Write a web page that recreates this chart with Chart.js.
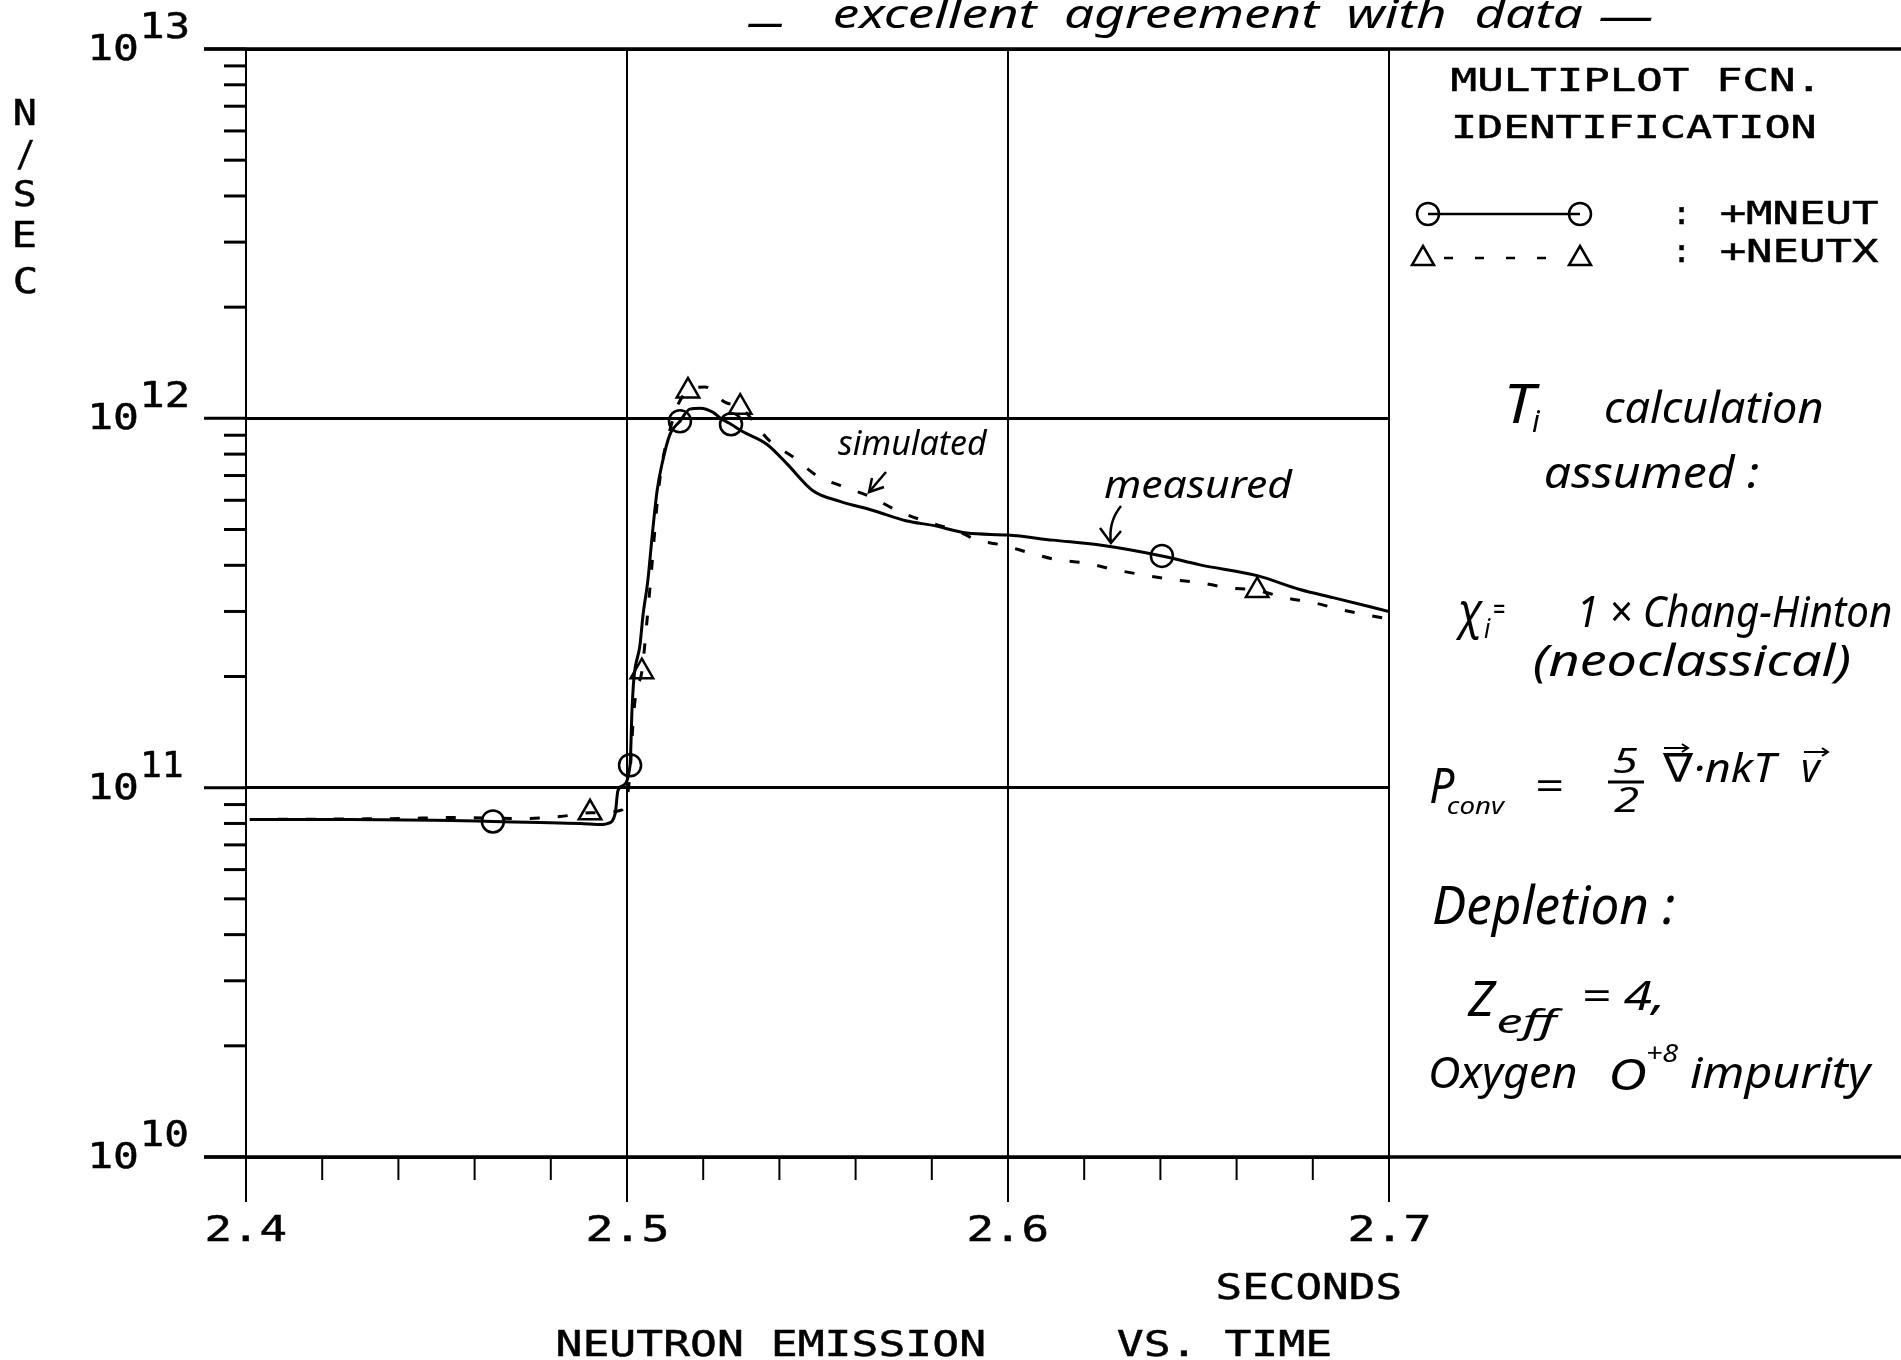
<!DOCTYPE html>
<html>
<head>
<meta charset="utf-8">
<title>Neutron emission vs. time</title>
<script src="https://cdn.jsdelivr.net/npm/chart.js@4.4.1/dist/chart.umd.min.js"></script>
<style>
  html, body { margin: 0; padding: 0; background: #fff; }
  canvas { display: block; }
</style>
</head>
<body>
<canvas id="chart" width="1901" height="1360"></canvas>
<script>
// Measured neutron emission (+MNEUT), solid line
const measuredTime = [2.401, 2.427, 2.4535, 2.4648, 2.4772, 2.4877, 2.4937, 2.4950, 2.4969, 2.4976,
    2.4987, 2.5008, 2.5013, 2.5018, 2.5034, 2.5042, 2.5055, 2.5066, 2.5079, 2.5092,
    2.5113, 2.5139, 2.5165, 2.5192, 2.5226, 2.5249, 2.5273, 2.5302, 2.5367, 2.5420,
    2.5488, 2.5559, 2.5646, 2.5735, 2.5803, 2.5892, 2.6000, 2.6118, 2.6241, 2.6404,
    2.6504, 2.6654, 2.6766, 2.6853, 2.7000];
const measuredRate = [8.2e10, 8.2e10, 8.15e10, 8.1e10, 8.05e10, 8.0e10, 7.95e10, 8.0e10, 8.5e10, 9.8e10,
    1.01e11, 1.15e11, 1.61e11, 1.97e11, 2.43e11, 2.93e11, 3.66e11, 4.80e11, 6.37e11, 7.53e11,
    9.06e11, 9.82e11, 1.059e12, 1.065e12, 1.038e12, 9.94e11, 9.64e11, 9.23e11, 8.51e11, 7.53e11,
    6.37e11, 5.96e11, 5.63e11, 5.27e11, 5.13e11, 4.89e11, 4.83e11, 4.68e11, 4.54e11, 4.24e11,
    4.01e11, 3.75e11, 3.44e11, 3.27e11, 3.00e11];

// Simulated neutron emission (+NEUTX), dashed line
const simulatedTime = [2.401, 2.4404, 2.4535, 2.4719, 2.4824, 2.4903, 2.4982, 2.5003, 2.5010, 2.5016,
    2.5024, 2.5039, 2.5052, 2.5066, 2.5079, 2.5092, 2.5113, 2.5134, 2.5160, 2.5205,
    2.5257, 2.5297, 2.5375, 2.5436, 2.5499, 2.5559, 2.5638, 2.5709, 2.5774, 2.5874,
    2.5919, 2.5984, 2.6058, 2.6129, 2.6202, 2.6281, 2.6354, 2.6430, 2.6504, 2.6575,
    2.6654, 2.6727, 2.6801, 2.6871, 2.6945, 2.7000];
const simulatedRate = [8.2e10, 8.25e10, 8.3e10, 8.25e10, 8.35e10, 8.55e10, 8.67e10, 9.8e10, 1.18e11, 1.51e11,
    1.82e11, 2.06e11, 2.80e11, 4.06e11, 5.87e11, 7.53e11, 9.34e11, 1.09e12, 1.186e12, 1.216e12,
    1.106e12, 1.072e12, 8.67e11, 7.86e11, 6.99e11, 6.58e11, 6.14e11, 5.63e11, 5.30e11, 4.92e11,
    4.68e11, 4.54e11, 4.32e11, 4.14e11, 4.06e11, 3.89e11, 3.77e11, 3.66e11, 3.59e11, 3.48e11,
    3.42e11, 3.27e11, 3.17e11, 3.04e11, 2.93e11, 2.86e11];

// Points where the plotter put its symbols
const measuredMarkTime = [2.4648, 2.5008, 2.5139, 2.5273, 2.6404];
const measuredMarkRate = [8.1e10, 1.15e11, 9.82e11, 9.64e11, 4.24e11];
const simulatedMarkTime = [2.4903, 2.5039, 2.5160, 2.5297, 2.6654];
const simulatedMarkRate = [8.55e10, 2.06e11, 1.186e12, 1.072e12, 3.42e11];

// Axes
const xTicks = [2.40, 2.42, 2.44, 2.46, 2.48, 2.50, 2.52, 2.54, 2.56, 2.58, 2.60, 2.62, 2.64, 2.66, 2.68, 2.70];
const xLabels = ['2.4', '2.5', '2.6', '2.7'];
const yDecades = [10, 11, 12, 13];
const yMinor = [2, 3, 4, 5, 6, 7, 8, 9];

const MONO = '"DejaVu Sans Mono", "Liberation Mono", monospace';
const HAND = '"Noto Sans", "DejaVu Sans", sans-serif';

function isMajorX(v) {
    return Math.abs(v * 10 - Math.round(v * 10)) < 1e-6;
}
function isMajorY(v) {
    let e = Math.log10(v);
    return Math.abs(e - Math.round(e)) < 1e-6;
}

let yTickValues = [];
yDecades.forEach((d, i) => {
    yTickValues.push(Math.pow(10, d));
    if (i < yDecades.length - 1) {
        yMinor.forEach(m => yTickValues.push(m * Math.pow(10, d)));
    }
});

function pairs(xs, ys) {
    return xs.map((x, i) => ({x: x, y: ys[i]}));
}

// draw text so its ink box starts at x and is w wide; heavy adds a thin outline
function fitText(ctx, str, x, y, w, font, heavy) {
    ctx.save();
    ctx.font = font;
    ctx.textAlign = 'left';
    ctx.textBaseline = 'alphabetic';
    let m = ctx.measureText(str);
    let ink = m.actualBoundingBoxLeft + m.actualBoundingBoxRight;
    let sx = w ? w / ink : 1;
    ctx.translate(x, y);
    ctx.scale(sx, 1);
    ctx.fillText(str, m.actualBoundingBoxLeft, 0);
    if (heavy) {
        ctx.lineWidth = heavy;
        ctx.strokeText(str, m.actualBoundingBoxLeft, 0);
    }
    ctx.restore();
}
function centerText(ctx, str, cx, y, w, font, heavy) {
    fitText(ctx, str, cx - w / 2, y, w, font, heavy);
}
function line(ctx, pts, width) {
    ctx.beginPath();
    ctx.lineWidth = width;
    ctx.moveTo(pts[0][0], pts[0][1]);
    for (let i = 1; i < pts.length; i++) ctx.lineTo(pts[i][0], pts[i][1]);
    ctx.stroke();
}
// little vector arrow drawn over a letter
function vecArrow(ctx, x0, x1, y) {
    line(ctx, [[x0, y], [x1, y]], 2);
    line(ctx, [[x1 - 6, y - 4], [x1, y], [x1 - 6, y + 4]], 2);
}

const plotterFrame = {
    id: 'plotterFrame',
    afterDraw(chart) {
        const ctx = chart.ctx;
        const xs = chart.scales.x;
        const ys = chart.scales.y;
        const area = chart.chartArea;
        const mono = size => size + 'px ' + MONO;
        const HV = 0.5;
        ctx.save();
        ctx.strokeStyle = '#000';
        ctx.fillStyle = '#000';
        ctx.lineCap = 'butt';

        // top and bottom lines run out under the legend
        let top = ys.getPixelForValue(1e13);
        let bottom = ys.getPixelForValue(1e10);
        line(ctx, [[204, top], [1901, top]], 3.5);
        line(ctx, [[204, bottom], [1901, bottom]], 3.5);

        // y ticks on the outside of the left axis
        ys.ticks.forEach(t => {
            let py = ys.getPixelForValue(t.value);
            if (isMajorY(t.value)) {
                line(ctx, [[204, py], [area.left, py]], 3);
            } else {
                line(ctx, [[224, py], [area.left, py]], 3);
            }
        });
        // x ticks below the bottom axis
        xs.ticks.forEach(t => {
            let px = xs.getPixelForValue(t.value);
            line(ctx, [[px, bottom], [px, bottom + (isMajorX(t.value) ? 45 : 23)]], 2);
        });

        // y labels 10^n
        yDecades.forEach(d => {
            let py = ys.getPixelForValue(Math.pow(10, d));
            fitText(ctx, '10', 92, py + 11, 45, mono(36), HV);
            fitText(ctx, String(d), 144, py - 11, String(d) === '11' ? 38 : 43, mono(36), HV);
        });
        // x labels
        xTicks.filter(isMajorX).forEach((v, i) => {
            centerText(ctx, xLabels[i], xs.getPixelForValue(v), 1241, 78, mono(36), HV);
        });

        // axis titles
        ['N', '/', 'S', 'E', 'C'].forEach((c, i) => {
            centerText(ctx, c, 25, [125, 166, 206, 247, 293][i], c === '/' ? 16 : 20, mono(36), HV);
        });
        fitText(ctx, 'SECONDS', 1218, 1299, 182, mono(36), HV);
        fitText(ctx, 'NEUTRON EMISSION', 558, 1356, 426, mono(36), HV);
        fitText(ctx, 'VS. TIME', 1118, 1356, 212, mono(36), HV);

        // function identification box
        fitText(ctx, 'MULTIPLOT FCN.', 1452, 91, 360, mono(32), HV);
        fitText(ctx, 'IDENTIFICATION', 1455, 138, 360, mono(32), HV);
        line(ctx, [[1428, 214], [1580, 214]], 2.5);
        ctx.setLineDash([9, 22]);
        line(ctx, [[1444, 258], [1566, 258]], 2.5);
        ctx.setLineDash([]);
        ctx.lineWidth = 2.5;
        [1428, 1580].forEach(cx => {
            ctx.beginPath();
            ctx.arc(cx, 214, 11, 0, Math.PI * 2);
            ctx.stroke();
        });
        [1423, 1580].forEach(cx => {
            ctx.beginPath();
            ctx.moveTo(cx, 246);
            ctx.lineTo(cx + 11, 265);
            ctx.lineTo(cx - 11, 265);
            ctx.closePath();
            ctx.fillStyle = '#fff';
            ctx.fill();
            ctx.stroke();
            ctx.fillStyle = '#000';
        });
        fitText(ctx, ':', 1679, 224, 0, mono(32), HV);
        fitText(ctx, '+MNEUT', 1721, 224, 157, mono(32), HV);
        fitText(ctx, ':', 1679, 262, 0, mono(32), HV);
        fitText(ctx, '+NEUTX', 1721, 262, 157, mono(32), HV);

        // hand-written notes
        const h = size => 'italic ' + size + 'px ' + HAND;
        fitText(ctx, '—', 748, 36, 35, h(40));
        fitText(ctx, 'excellent  agreement  with  data', 834, 28, 748, h(40));
        fitText(ctx, '—', 1600, 30, 53, h(40));

        fitText(ctx, 'T', 1508, 423, 32, h(54));
        fitText(ctx, 'i', 1532, 432, 9, h(30));
        fitText(ctx, 'calculation', 1606, 423, 216, h(44));
        fitText(ctx, 'assumed :', 1546, 488, 212, h(44));

        fitText(ctx, 'χ', 1455, 628, 28, h(50));
        fitText(ctx, 'i', 1484, 638, 7, h(28));
        fitText(ctx, '=', 1494, 620, 11, h(30));
        fitText(ctx, '1 × Chang-Hinton', 1582, 627, 309, h(44));
        fitText(ctx, '(neoclassical)', 1534, 676, 315, h(44));

        fitText(ctx, 'P', 1431, 803, 24, h(50));
        fitText(ctx, 'conv', 1448, 814, 58, h(24));
        fitText(ctx, '=', 1538, 800, 24, h(40));
        fitText(ctx, '5', 1614, 773, 24, h(34));
        line(ctx, [[1608, 782], [1644, 782]], 3);
        fitText(ctx, '2', 1614, 812, 24, h(34));
        fitText(ctx, '∇·nkT', 1662, 782, 118, h(40));
        fitText(ctx, 'v', 1802, 782, 20, h(40));
        vecArrow(ctx, 1664, 1688, 748);
        vecArrow(ctx, 1804, 1828, 752);

        fitText(ctx, 'Depletion :', 1434, 924, 240, h(52));
        fitText(ctx, 'Z', 1467, 1016, 30, h(50));
        fitText(ctx, 'eff', 1498, 1033, 66, h(32));
        fitText(ctx, '= 4,', 1585, 1010, 76, h(40));
        fitText(ctx, 'Oxygen', 1431, 1088, 145, h(44));
        fitText(ctx, 'O', 1612, 1090, 34, h(44));
        fitText(ctx, '+8', 1647, 1062, 32, h(26));
        fitText(ctx, 'impurity', 1691, 1088, 182, h(44));

        fitText(ctx, 'simulated', 838, 455, 150, h(34));
        line(ctx, [[886, 472], [869, 492]], 2.5);
        line(ctx, [[872, 478], [869, 492], [884, 487]], 2.5);
        fitText(ctx, 'measured', 1105, 498, 188, h(38));
        ctx.beginPath();
        ctx.lineWidth = 2.5;
        ctx.moveTo(1121, 506);
        ctx.quadraticCurveTo(1108, 522, 1111, 543);
        ctx.stroke();
        line(ctx, [[1100, 528], [1111, 543], [1121, 531]], 2.5);

        ctx.restore();
    }
};

const ctx = document.getElementById('chart').getContext('2d');
const neutronChart = new Chart(ctx, {
    type: 'scatter',
    data: {
        datasets: [
            {
                label: '+MNEUT',
                data: pairs(measuredTime, measuredRate),
                showLine: true,
                borderColor: '#000',
                borderWidth: 3,
                pointRadius: 0,
                cubicInterpolationMode: 'monotone'
            },
            {
                label: '+NEUTX',
                data: pairs(simulatedTime, simulatedRate),
                showLine: true,
                borderColor: '#000',
                borderWidth: 3,
                borderDash: [10, 18],
                pointRadius: 0,
                cubicInterpolationMode: 'monotone'
            },
            {
                label: '+MNEUT symbols',
                data: pairs(measuredMarkTime, measuredMarkRate),
                showLine: false,
                pointStyle: 'circle',
                pointRadius: 11,
                borderColor: '#000',
                borderWidth: 2.5,
                backgroundColor: 'rgba(0,0,0,0)'
            },
            {
                label: '+NEUTX symbols',
                data: pairs(simulatedMarkTime, simulatedMarkRate),
                showLine: false,
                pointStyle: 'triangle',
                pointRadius: 13,
                borderColor: '#000',
                borderWidth: 2.5,
                backgroundColor: '#fff'
            }
        ]
    },
    options: {
        responsive: false,
        animation: false,
        devicePixelRatio: 1,
        events: [],
        layout: {
            padding: {left: 246, right: 512, top: 49, bottom: 203}
        },
        plugins: {
            legend: {display: false},
            tooltip: {enabled: false},
            title: {display: false}
        },
        scales: {
            x: {
                type: 'linear',
                min: 2.4,
                max: 2.7,
                afterBuildTicks: axis => { axis.ticks = xTicks.map(v => ({value: v})); },
                afterFit: axis => { axis.height = 0; },
                ticks: {display: false},
                border: {display: false},
                grid: {
                    drawTicks: false,
                    lineWidth: 2,
                    color: c => (c.tick && isMajorX(c.tick.value)) ? '#000' : 'rgba(0,0,0,0)'
                }
            },
            y: {
                type: 'logarithmic',
                min: 1e10,
                max: 1e13,
                afterBuildTicks: axis => { axis.ticks = yTickValues.map(v => ({value: v})); },
                afterFit: axis => { axis.width = 0; },
                ticks: {display: false},
                border: {display: false},
                grid: {
                    drawTicks: false,
                    lineWidth: 3,
                    color: c => (c.tick && isMajorY(c.tick.value)) ? '#000' : 'rgba(0,0,0,0)'
                }
            }
        }
    },
    plugins: [plotterFrame]
});
</script>
</body>
</html>
